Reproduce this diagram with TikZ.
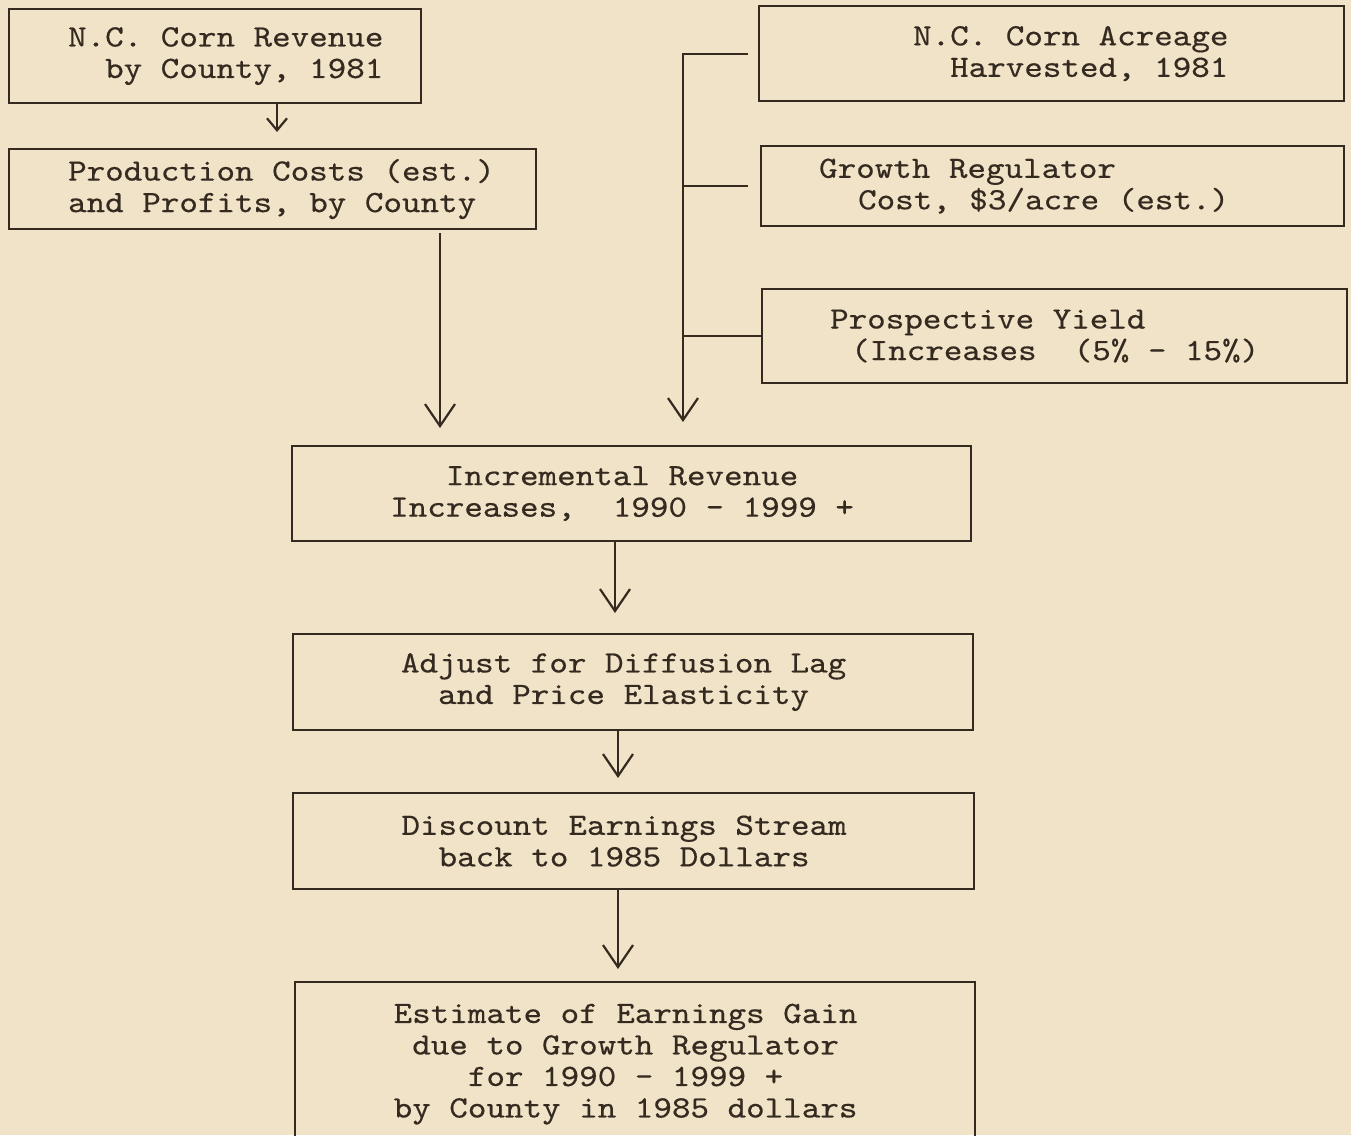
\documentclass[tikz,border=0pt]{standalone}
\usepackage{fontspec}
\setmonofont[FakeStretch=1.14,FakeBold=0.4]{lmmono10-regular.otf}
\usetikzlibrary{arrows.meta}
\definecolor{paper}{RGB}{240,227,200}
\definecolor{ink}{RGB}{52,42,32}
\newcommand{\boxfont}{\ttfamily\fontsize{31}{31.5}\selectfont
  \fontdimen2\font=18.55pt\relax\fontdimen3\font=0pt\relax\fontdimen4\font=0pt\relax
  \fontdimen7\font=0pt\relax}
\newcommand{\ls}{\hspace*{-19pt}}
\begin{document}
\frenchspacing
\begin{tikzpicture}[x=1pt,y=-1pt,
  box/.style={draw=ink, line width=2.2pt, inner xsep=0pt, inner ysep=0pt,
    text=ink, font=\boxfont, execute at begin node={\spaceskip=18.55pt\relax},
    anchor=north west, align=left},
  cbox/.style={box, align=center},
  conn/.style={draw=ink, line width=2.2pt},
  bigarr/.style={conn, -{Straight Barb[length=22pt,width=30pt]}},
  smallarr/.style={conn, -{Straight Barb[length=12pt,width=20pt]}}]
\fill[paper] (0,0) rectangle (1351,1135);
\useasboundingbox (0,0) rectangle (1351,1135);
\clip (0,0) rectangle (1351,1135);

\node[box, text width=412pt, minimum height=94pt] (rev) at (8,8)
  {\hspace*{59pt}N.C. Corn Revenue\\\hspace*{96pt}by County, 1981};
\node[box, text width=527pt, minimum height=80pt] (prod) at (8,148)
  {\hspace*{59pt}Production Costs (est.)\\\hspace*{59pt}and Profits, by County};
\node[box, text width=585pt, minimum height=95pt] (acq) at (758,5)
  {\hspace*{154pt}N.C. Corn Acreage\\\hspace*{191pt}Harvested, 1981};
\node[box, text width=583pt, minimum height=80pt] (grw) at (760,145)
  {\hspace*{58pt}Growth Regulator\\\hspace*{97pt}Cost, \$3/acre (est.)};
\node[box, text width=585pt, minimum height=94pt] (yld) at (761,288)
  {\hspace*{68pt}Prospective Yield\\\hspace*{89pt}(Increases\hspace{37.1pt}(5\% - 15\%)};
\node[cbox, text width=679pt, minimum height=95pt] (incr) at (291,445)
  {\ls Incremental Revenue\\\ls Increases,\hspace{37.1pt}1990 - 1999 +};
\node[cbox, text width=680pt, minimum height=96pt] (adj) at (292,633)
  {\ls Adjust for Diffusion Lag\\\ls and Price Elasticity};
\node[cbox, text width=681pt, minimum height=96pt] (disc) at (292,792)
  {\ls Discount Earnings Stream\\\ls back to 1985 Dollars};
\node[cbox, text width=680pt, minimum height=164pt] (est) at (294,981)
  {\ls Estimate of Earnings Gain\\\ls due to Growth Regulator\\\ls for 1990 - 1999 +\\\ls by County in 1985 dollars};

\coordinate (xa) at (277,0);
\coordinate (xb) at (440,0);
\coordinate (xbus) at (683,0);
\coordinate (xc) at (615,0);
\coordinate (xd) at (618,0);

\draw[smallarr, shorten >=16pt] (rev.south -| xa) -- (prod.north -| xa);
\draw[bigarr, shorten <=3pt, shorten >=17pt] (prod.south -| xb) -- (incr.north -| xb);
\draw[bigarr, shorten >=23pt] ([xshift=-10pt]acq.west) -- (acq.west -| xbus) -- (incr.north -| xbus);
\draw[conn] ([xshift=-12pt]grw.west) -- (grw.west -| xbus);
\draw[conn] (yld.west) -- (yld.west -| xbus);
\draw[bigarr, shorten >=20pt] (incr.south -| xc) -- (adj.north -| xc);
\draw[bigarr, shorten >=14pt] (adj.south -| xd) -- (disc.north -| xd);
\draw[bigarr, shorten >=12pt] (disc.south -| xd) -- (est.north -| xd);
\end{tikzpicture}
\end{document}
